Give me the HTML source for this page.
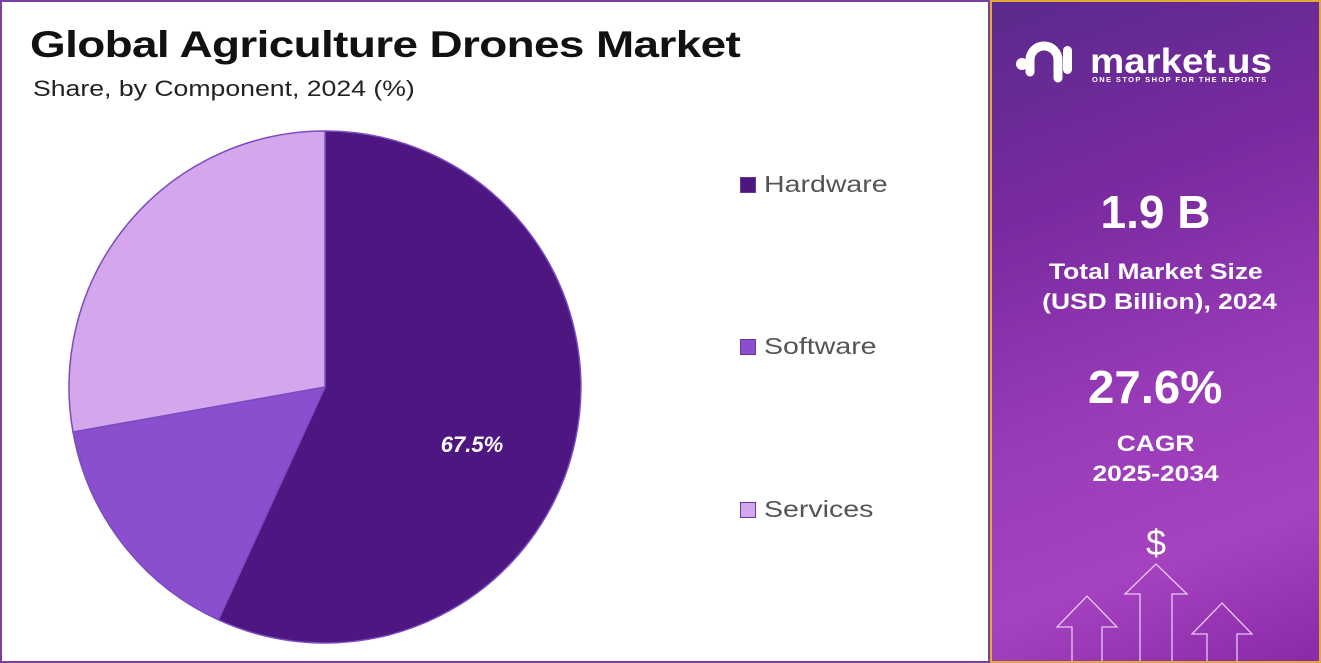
<!DOCTYPE html>
<html><head><meta charset="utf-8"><style>
body{margin:0;width:1321px;height:663px;overflow:hidden;background:#fff;font-family:"Liberation Sans",sans-serif;position:relative}
.left{position:absolute;left:0;top:0;width:986px;height:659px;border:2px solid #7b3fa0;box-sizing:content-box}
.right{position:absolute;left:990px;top:0;width:327px;height:659px;border:2px solid #e0a93a;background:linear-gradient(160deg,#5a2a8c 0%,#7a2aa0 30%,#9a3cb8 60%,#a542c0 80%,#8a2aa8 100%);color:#fff;text-align:center}
h1{position:absolute;left:28px;top:22px;margin:0;font-size:37px;font-weight:bold;color:#111;letter-spacing:-0.5px;transform:scaleX(1.24);transform-origin:left;white-space:nowrap}
.sub{position:absolute;left:31px;top:74px;font-size:22px;color:#222;transform:scaleX(1.21);transform-origin:left;white-space:nowrap}
.leg{position:absolute;left:738px;font-size:23px;color:#555;white-space:nowrap}
.leg span{display:inline-block;width:16px;height:16px;margin-right:8px;vertical-align:-1px;border:1px solid #6a3a9a;box-sizing:border-box}
.leg b{font-weight:normal;display:inline-block;transform:scaleX(1.24);transform-origin:left}
.c{position:absolute;left:0;width:327px;font-weight:bold}
.c i{font-style:normal;display:inline-block;transform:scaleX(1.2)}
</style></head><body>
<div class="left">
<h1>Global Agriculture Drones Market</h1>
<div class="sub">Share, by Component, 2024 (%)</div>
<svg width="986" height="659" style="position:absolute;left:0;top:0">
<path d="M323,385 L323,129 A256,256 0 1,1 216.4,617.8 Z" fill="#4e1680" stroke="#7a4cc0" stroke-width="1.5"/>
<path d="M323,385 L216.4,617.8 A256,256 0 0,1 71,430 Z" fill="#8a4fcf" stroke="#7a4cc0" stroke-width="1.5"/>
<path d="M323,385 L71,430 A256,256 0 0,1 323,129 Z" fill="#d4a6ec" stroke="#7a4cc0" stroke-width="1.5"/>
<text x="470" y="450" fill="#fff" font-size="22" font-weight="bold" font-style="italic" text-anchor="middle" font-family="Liberation Sans">67.5%</text>
</svg>
<div class="leg" style="top:169px"><span style="background:#4e1680"></span><b>Hardware</b></div>
<div class="leg" style="top:331px"><span style="background:#8a4fcf"></span><b>Software</b></div>
<div class="leg" style="top:494px"><span style="background:#d4a6ec"></span><b>Services</b></div>
</div>
<div class="right">
<svg width="327" height="659" style="position:absolute;left:0;top:0">
<g fill="#fff"><circle cx="30" cy="62" r="6"/><path d="M38,70 v-12 a14,14 0 0,1 28,0 v18" stroke="#fff" stroke-width="9" fill="none" stroke-linecap="round"/><rect x="71" y="44" width="9" height="28" rx="4.5"/></g>
<g stroke="#f0d8f8" stroke-width="1.3" fill="none" opacity="0.9">
<path d="M80,663 V625 H65 L95,594 L125,625 H110 V663"/>
<path d="M148,663 V592 H133 L164,562 L195,592 H180 V663"/>
<path d="M215,663 V632 H200 L230,601 L260,632 H245 V663"/>
</g>
<text x="164" y="553" fill="#fff" font-size="36" text-anchor="middle" font-family="Liberation Sans">$</text>
</svg>
<div style="position:absolute;left:98px;top:40px;font-size:35px;font-weight:bold;transform:scaleX(1.1);transform-origin:left">market.us</div>
<div style="position:absolute;left:100px;top:73px;font-size:7.5px;font-weight:bold;letter-spacing:1.4px">ONE STOP SHOP FOR THE REPORTS</div>
<div class="c" style="top:183px;font-size:46px"><i style="transform:none">1.9 B</i></div>
<div class="c" style="top:255px;font-size:22px;line-height:30px"><i>Total Market Size<br>&nbsp;(USD Billion), 2024</i></div>
<div class="c" style="top:358px;font-size:46px"><i style="transform:scaleX(1.03)">27.6%</i></div>
<div class="c" style="top:427px;font-size:22px;line-height:30px"><i>CAGR<br>2025-2034</i></div>
</div>
</body></html>
